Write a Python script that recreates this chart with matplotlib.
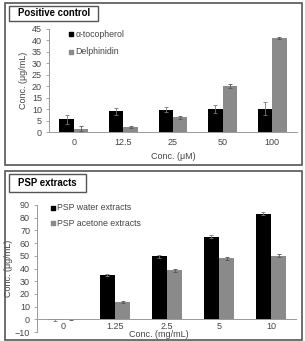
import matplotlib.pyplot as plt
from matplotlib.patches import Rectangle
import numpy as np

plt.rcParams['font.family'] = ['Liberation Sans', 'DejaVu Sans']

# top panel: positive controls
pc_labels = ['0', '12.5', '25', '50', '100']
toco = [5.5, 9.0, 9.8, 10.0, 10.2]
toco_err = [2.0, 1.7, 1.2, 1.8, 2.8]
delph = [1.5, 2.2, 6.5, 20.2, 41.2]
delph_err = [1.2, 0.6, 0.7, 0.8, 0.5]

# bottom panel: PSP extracts
psp_labels = ['0', '1.25', '2.5', '5', '10']
water = [-0.5, 35.0, 49.5, 65.0, 83.0]
water_err = [0.6, 0.8, 1.0, 1.0, 1.2]
acetone = [-0.2, 14.0, 38.5, 48.0, 50.0]
acetone_err = [0.4, 0.8, 1.2, 1.0, 1.2]

W, H = 305, 341
fig = plt.figure(figsize=(W / 100, H / 100), dpi=100)

def px(x0, y0, x1, y1):
    return [x0 / W, 1 - y1 / H, (x1 - x0) / W, (y1 - y0) / H]

tick_col = '#444444'
grey = '#8a8a8a'
bw = 0.29

def frame(x0, y0, x1, y1, title, tx1, ty1):
    l, b, w, h = px(x0, y0, x1, y1)
    fig.patches.append(Rectangle((l, b), w, h, transform=fig.transFigure,
                                 fill=False, ec='#555555', lw=1.2))
    l, b, w, h = px(x0 + 4, y0 + 3, tx1, ty1)
    fig.patches.append(Rectangle((l, b), w, h, transform=fig.transFigure,
                                 fill=False, ec='#555555', lw=1.0))
    fig.text(l + 0.03, b + h / 2, title, fontsize=6.9, fontweight='bold',
             va='center', ha='left')

def style(ax, ymin, ymax, step, labels):
    x = np.arange(len(labels))
    ax.set_xlim(-0.5, len(labels) - 0.5)
    ax.set_ylim(ymin, ymax)
    ax.set_yticks(np.arange(ymin, ymax + 0.1, step))
    ax.set_xticks(x)
    ax.set_xticklabels(labels)
    for s in ['top', 'right']:
        ax.spines[s].set_visible(False)
    ax.spines['left'].set_color('#999999')
    ax.spines['bottom'].set_color('#999999')
    ax.spines['left'].set_linewidth(0.7)
    ax.spines['bottom'].set_linewidth(0.7)
    ax.tick_params(axis='y', labelsize=6.5, colors='#999999', labelcolor=tick_col,
                   length=2, width=0.6, pad=3)
    ax.tick_params(axis='x', labelsize=6.5, colors='#999999', labelcolor=tick_col,
                   length=0, pad=4)

# top chart
frame(5, 3, 302, 165, 'Positive control', 98, 21)
ax1 = fig.add_axes(px(49, 29, 297, 132))
x = np.arange(len(pc_labels))
ax1.bar(x - bw / 2, toco, bw, color='black', yerr=toco_err,
        error_kw=dict(ecolor='#777777', elinewidth=0.6, capsize=1.2, capthick=0.6))
ax1.bar(x + bw / 2, delph, bw, color=grey, yerr=delph_err,
        error_kw=dict(ecolor='#555555', elinewidth=0.6, capsize=1.2, capthick=0.6))
style(ax1, 0, 45, 5, pc_labels)
ax1.set_xlabel('Conc. (μM)', fontsize=6.5, color=tick_col, labelpad=4)
ax1.set_ylabel('Conc. (μg/mL)', fontsize=6.5, color=tick_col, labelpad=3)
ax1.scatter([-0.06], [42.8], marker='s', s=8, color='black')
ax1.scatter([-0.06], [35.0], marker='s', s=8, color=grey)
ax1.text(0.03, 42.8, 'α-tocopherol', fontsize=6.3, color=tick_col, va='center')
ax1.text(0.03, 35.0, 'Delphinidin', fontsize=6.3, color=tick_col, va='center')

# bottom chart
frame(5, 171, 302, 340, 'PSP extracts', 86, 192)
ax2 = fig.add_axes(px(37, 205, 297, 332))
x = np.arange(len(psp_labels))
ax2.bar(x - bw / 2, water, bw, color='black', yerr=water_err,
        error_kw=dict(ecolor='#777777', elinewidth=0.6, capsize=1.2, capthick=0.6))
ax2.bar(x + bw / 2, acetone, bw, color=grey, yerr=acetone_err,
        error_kw=dict(ecolor='#555555', elinewidth=0.6, capsize=1.2, capthick=0.6))
style(ax2, -10, 90, 10, psp_labels)
ax2.spines['bottom'].set_visible(False)
ax2.axhline(0, color='#999999', lw=0.7)
ax2.tick_params(axis='x', pad=-7)
ax2.set_ylabel('Conc. (μg/mL)', fontsize=6.5, color=tick_col, labelpad=1)
ax2.text(0.47, -0.022, 'Conc. (mg/mL)', transform=ax2.transAxes, fontsize=6.5,
         color=tick_col, ha='center', va='center')
ax2.scatter([-0.19], [88], marker='s', s=8, color='black')
ax2.scatter([-0.19], [75.6], marker='s', s=8, color=grey)
ax2.text(-0.11, 88, 'PSP water extracts', fontsize=6.3, color=tick_col, va='center')
ax2.text(-0.11, 75.6, 'PSP acetone extracts', fontsize=6.3, color=tick_col, va='center')

fig.savefig('out.png', dpi=100)
